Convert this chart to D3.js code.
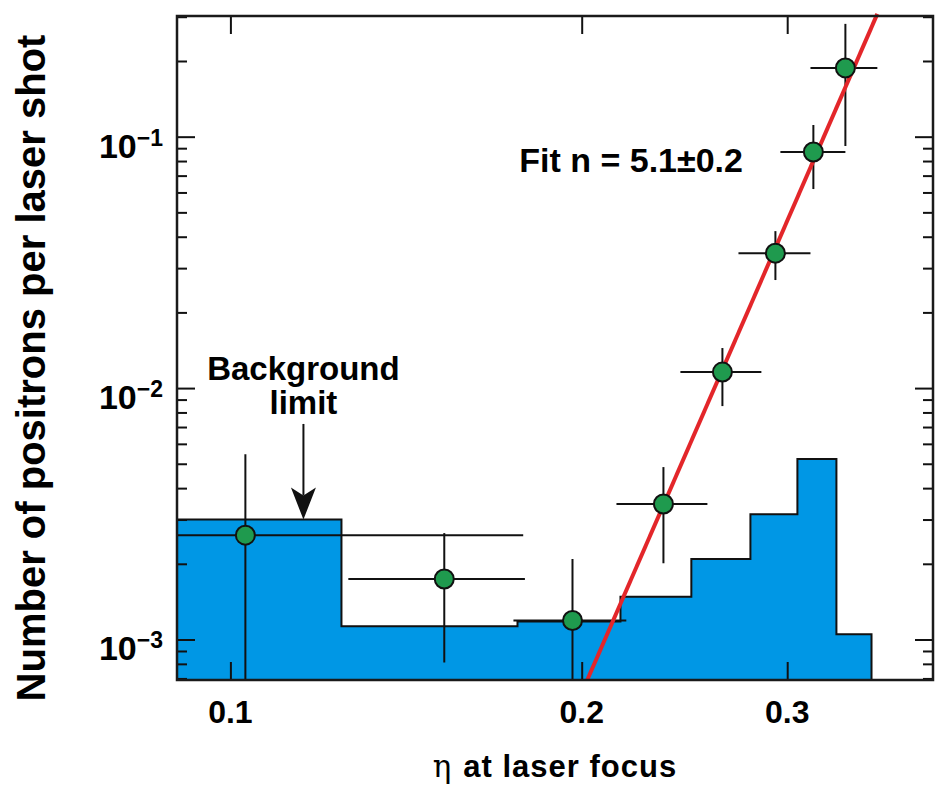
<!DOCTYPE html>
<html>
<head>
<meta charset="utf-8">
<script src="https://cdn.jsdelivr.net/npm/d3@7"></script>
<style>
	body { margin: 0; background: #fff; }
	svg { display: block; font-family: 'Liberation Sans', Arial, Helvetica, sans-serif; }
</style>
</head>
<body>
<div id="container"></div>
<script>
// background histogram: bin edges (eta) and height of each bin
const binEdges = [0.09, 0.1245, 0.1762, 0.2159, 0.2483, 0.2790, 0.3061, 0.3306, 0.3543];
const binHeights = [3.0e-3, 1.13e-3, 1.18e-3, 1.48e-3, 2.09e-3, 3.15e-3, 5.22e-3, 1.05e-3];

// measured positron yield with error bars
const eta = [0.1030, 0.1525, 0.1964, 0.2350, 0.2640, 0.2931, 0.3159, 0.3365];
const etaLo = [0.085, 0.1262, 0.1748, 0.2142, 0.2430, 0.2725, 0.2960, 0.3141];
const etaHi = [0.1782, 0.1788, 0.2184, 0.2563, 0.2851, 0.3141, 0.3365, 0.3584];
const yieldVal = [0.0026, 0.00174, 0.00119, 0.00346, 0.01158, 0.0344, 0.0869, 0.1877];
const yieldLo = [0.0005, 0.00081, 0.0005, 0.00201, 0.00848, 0.0269, 0.0619, 0.0918];
const yieldHi = [0.00546, 0.00265, 0.00209, 0.00485, 0.01443, 0.0421, 0.1113, 0.281];

// power law fit (end points)
const fitEta = [0.2022, 0.3584];
const fitYield = [0.00069, 0.3078];

const xTicks = [0.1, 0.2, 0.3];
const xTickLabels = ['0.1', '0.2', '0.3'];
const yTicks = [1e-3, 1e-2, 1e-1];
const yTickExp = ['\u22123', '\u22122', '\u22121'];

// annotation arrow: eta position and top of the shaft
const arrowEta = 0.1155;
const arrowTop = 0.0072;

const width = 941, height = 793;
const margin = { top: 16, right: 8, bottom: 113, left: 177 };
const pLeft = margin.left, pRight = width - margin.right;
const pTop = margin.top, pBottom = height - margin.bottom;

const x = d3.scaleLog().domain([0.09, 0.4]).range([pLeft, pRight]);
const y = d3.scaleLog().domain([0.00069, 0.302]).range([pBottom, pTop]);

const svg = d3.select('div#container').append('svg')
	.attr('width', width)
	.attr('height', height)
	.attr('viewBox', [0, 0, width, height]);

svg.append('defs').append('clipPath')
	.attr('id', 'plot')
	.append('rect')
	.attr('x', pLeft)
	.attr('y', pTop)
	.attr('width', pRight - pLeft)
	.attr('height', pBottom - pTop);

const plot = svg.append('g').attr('clip-path', 'url(#plot)');

// histogram
const bins = binEdges.map((e, i) => [e, binHeights[Math.min(i, binHeights.length - 1)]]);

plot.append('path')
	.datum(bins)
	.attr('fill', '#0097e5')
	.attr('d', d3.area()
		.curve(d3.curveStepAfter)
		.x(d => x(d[0]))
		.y0(pBottom)
		.y1(d => y(d[1])));

plot.append('path')
	.datum(bins.concat([[binEdges[binEdges.length - 1], y.domain()[0]]]))
	.attr('fill', 'none')
	.attr('stroke', '#111')
	.attr('stroke-width', 2)
	.attr('d', d3.line()
		.curve(d3.curveStepAfter)
		.x(d => x(d[0]))
		.y(d => y(d[1])));

// error bars
const points = eta.map((e, i) => ({
	eta: e,
	lo: etaLo[i],
	hi: etaHi[i],
	val: yieldVal[i],
	vlo: yieldLo[i],
	vhi: yieldHi[i],
}));

const bars = plot.append('g')
	.attr('stroke', '#111')
	.attr('stroke-width', 2);

bars.selectAll('line.h')
	.data(points)
	.enter()
	.append('line')
	.attr('class', 'h')
	.attr('x1', d => x(d.lo))
	.attr('x2', d => x(d.hi))
	.attr('y1', d => y(d.val))
	.attr('y2', d => y(d.val));

bars.selectAll('line.v')
	.data(points)
	.enter()
	.append('line')
	.attr('class', 'v')
	.attr('x1', d => x(d.eta))
	.attr('x2', d => x(d.eta))
	.attr('y1', d => y(d.vlo))
	.attr('y2', d => y(d.vhi));

// fit line
svg.append('path')
	.datum(fitEta.map((e, i) => [e, fitYield[i]]))
	.attr('fill', 'none')
	.attr('stroke', '#e3262a')
	.attr('stroke-width', 4)
	.attr('d', d3.line().x(d => x(d[0])).y(d => y(d[1])));

// points
svg.append('g')
	.selectAll('circle')
	.data(points)
	.enter()
	.append('circle')
	.attr('cx', d => x(d.eta))
	.attr('cy', d => y(d.val))
	.attr('r', 9.5)
	.attr('fill', '#1f9a4e')
	.attr('stroke', '#111')
	.attr('stroke-width', 2);

// ticks, inward on all four sides
const minorY = y.ticks().filter(v => !yTicks.some(t => Math.abs(t - v) / t < 1e-6));

const tickAxis = (axis, tx, ty) => {
	const g = svg.append('g')
		.attr('transform', `translate(${tx},${ty})`)
		.call(axis);
	g.select('.domain').remove();
	g.selectAll('line').attr('stroke', '#111').attr('stroke-width', 2);
};

tickAxis(d3.axisBottom(x).tickValues(xTicks).tickSize(-18).tickFormat(''), 0, pBottom);
tickAxis(d3.axisTop(x).tickValues(xTicks).tickSize(-18).tickFormat(''), 0, pTop);
tickAxis(d3.axisLeft(y).tickValues(yTicks).tickSize(-18).tickFormat(''), pLeft, 0);
tickAxis(d3.axisLeft(y).tickValues(minorY).tickSize(-10).tickFormat(''), pLeft, 0);
tickAxis(d3.axisRight(y).tickValues(yTicks).tickSize(-18).tickFormat(''), pRight, 0);
tickAxis(d3.axisRight(y).tickValues(minorY).tickSize(-10).tickFormat(''), pRight, 0);

// frame
svg.append('rect')
	.attr('x', pLeft)
	.attr('y', pTop)
	.attr('width', pRight - pLeft)
	.attr('height', pBottom - pTop)
	.attr('fill', 'none')
	.attr('stroke', '#1a1a1a')
	.attr('stroke-width', 2.5);

// tick labels
svg.append('g')
	.selectAll('text')
	.data(xTicks)
	.enter()
	.append('text')
	.attr('x', d => x(d))
	.attr('y', pBottom + 43)
	.attr('text-anchor', 'middle')
	.style('font-size', '32px')
	.style('font-weight', 'bold')
	.text((d, i) => xTickLabels[i]);

const yLab = svg.append('g')
	.selectAll('text')
	.data(yTicks)
	.enter()
	.append('text')
	.attr('x', pLeft - 14)
	.attr('y', d => y(d) + 21)
	.attr('text-anchor', 'end')
	.style('font-weight', 'bold');

yLab.append('tspan')
	.style('font-size', '34px')
	.text('10');
yLab.append('tspan')
	.attr('dy', -12)
	.style('font-size', '23px')
	.text((d, i) => yTickExp[i]);

// axis titles
const xTitle = svg.append('text')
	.attr('x', (pLeft + pRight) / 2)
	.attr('y', 777)
	.attr('text-anchor', 'middle')
	.style('font-size', '31px')
	.style('font-weight', 'bold')
	.style('letter-spacing', '1px');
xTitle.append('tspan')
	.style('font-family', "'DejaVu Serif', 'Liberation Serif', serif")
	.style('font-weight', 'normal')
	.text('\u03b7 ');
xTitle.append('tspan').text('at laser focus');

svg.append('text')
	.attr('transform', `translate(45,${(pTop + pBottom) / 2 + 20}) rotate(-90)`)
	.attr('text-anchor', 'middle')
	.style('font-size', '40px')
	.style('font-weight', 'bold')
	.text('Number of positrons per laser shot');

// annotations
svg.append('text')
	.attr('x', x(0.2022) - 68)
	.attr('y', 172)
	.style('font-size', '34px')
	.style('font-weight', 'bold')
	.text('Fit n = 5.1\u00b10.2');

const ax = x(arrowEta);
const tipY = y(binHeights[0]);
const shaftTop = y(arrowTop);

svg.append('line')
	.attr('x1', ax)
	.attr('x2', ax)
	.attr('y1', shaftTop)
	.attr('y2', tipY - 24)
	.attr('stroke', '#111')
	.attr('stroke-width', 2);

svg.append('path')
	.attr('d', `M${ax},${tipY} L${ax - 12.5},${tipY - 32} L${ax},${tipY - 24} L${ax + 12.5},${tipY - 32} Z`)
	.attr('fill', '#111');

svg.append('text')
	.attr('x', ax)
	.attr('y', shaftTop - 44)
	.attr('text-anchor', 'middle')
	.style('font-size', '33px')
	.style('font-weight', 'bold')
	.text('Background');

svg.append('text')
	.attr('x', ax)
	.attr('y', shaftTop - 10)
	.attr('text-anchor', 'middle')
	.style('font-size', '33px')
	.style('font-weight', 'bold')
	.text('limit');
</script>
</body>
</html>
